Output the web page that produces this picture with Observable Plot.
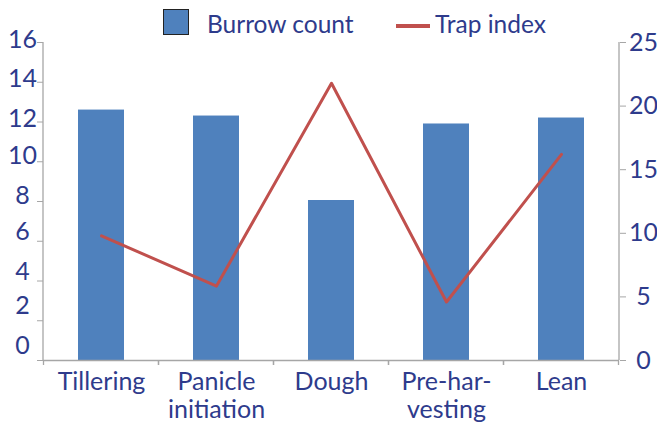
<!DOCTYPE html>
<html>
<head>
<meta charset="utf-8">
<script src="https://cdn.jsdelivr.net/npm/d3@7"></script>
<script src="https://cdn.jsdelivr.net/npm/@observablehq/plot@0.6"></script>
<style>
  html, body { margin: 0; padding: 0; background: white; }
  #wrap { position: relative; width: 657px; height: 425px; font-family: Lato, "Open Sans", sans-serif; }
  #legend { position: absolute; left: 0; top: 0; width: 657px; height: 40px; color: #2e3b8c; font-size: 24.5px; }
  .sw-box { position: absolute; left: 163px; top: 9px; width: 24px; height: 24px; background: #4f81bd; border: 1.5px solid #222; }
  .sw-line { position: absolute; left: 396px; top: 24px; width: 34px; height: 4px; background: #c0504d; }
  .lab { position: absolute; top: 4px; line-height: 40px; white-space: nowrap; }
</style>
</head>
<body>
<div id="wrap">
  <div id="chart"></div>
  <div id="legend">
    <div class="sw-box"></div><div class="lab" style="left:207px">Burrow count</div>
    <div class="sw-line"></div><div class="lab" style="left:435px">Trap index</div>
  </div>
</div>
<script>
const stages = ["Tillering", "Panicle initiation", "Dough", "Pre-harvesting", "Lean"];
const stageLabels = ["Tillering", "Panicle\ninitiation", "Dough", "Pre-har-\nvesting", "Lean"];
const burrowCount = [12.6, 12.3, 8.05, 11.9, 12.2];
const trapIndex = [9.8, 5.85, 21.8, 4.6, 16.2];
const leftTicks = [0, 2, 4, 6, 8, 10, 12, 14, 16];
const rightTicks = [0, 5, 10, 15, 20, 25];
const leftMax = 16, rightMax = 25;

const data = stages.map((s, i) => ({stage: s, burrow: burrowCount[i], trap: trapIndex[i]}));
const toLeft = v => v * leftMax / rightMax;
const textColor = "#2e3b8c";
const axisColor = "#a6a6a6";
const fs = 25;

// left labels drawn in groups (the source's labels drift slightly above their ticks)
const leftLabelGroups = [
  {ticks: leftTicks.filter(v => v >= 12), dy: -3},
  {ticks: leftTicks.filter(v => v >= 8 && v < 12), dy: -6},
  {ticks: leftTicks.filter(v => v >= 4 && v < 8), dy: -9},
  {ticks: leftTicks.filter(v => v < 4), dy: -15}
];

const plot = Plot.plot({
  width: 657,
  height: 425,
  marginLeft: 43,
  marginRight: 38,
  marginTop: 42,
  marginBottom: 65,
  style: {fontFamily: "Lato, 'Open Sans', sans-serif", fontSize: fs + "px", color: textColor, background: "white", overflow: "visible"},
  x: {domain: stages, paddingInner: 0.6, paddingOuter: 0.3, label: null},
  y: {domain: [0, leftMax], label: null},
  marks: [
    Plot.barY(data, {x: "stage", y: "burrow", fill: "#4f81bd"}),
    Plot.line(data, {x: "stage", y: d => toLeft(d.trap), stroke: "#c0504d", strokeWidth: 3}),
    Plot.ruleY([0], {stroke: axisColor, strokeWidth: 1.3}),
    Plot.axisY(leftTicks, {anchor: "left", tickSize: 6, stroke: axisColor, text: null, label: null}),
    ...leftLabelGroups.map(g => Plot.axisY(g.ticks, {anchor: "left", tickSize: 0, tickPadding: 21, textAnchor: "middle", fill: textColor, fontSize: fs, dy: g.dy, label: null})),
    Plot.axisY(rightTicks.map(toLeft), {anchor: "right", tickSize: 6, tickPadding: 18, textAnchor: "middle", stroke: axisColor, fill: textColor, fontSize: fs, tickFormat: v => Math.round(v * rightMax / leftMax), label: null}),
    Plot.axisX({tickSize: 0, tickPadding: 10, fill: textColor, fontSize: fs, lineHeight: 1.12, tickFormat: d => stageLabels[stages.indexOf(d)], label: null})
  ]
});
document.getElementById("chart").appendChild(plot);

// axis lines and category boundary ticks derived from the plot's scales
const xs = plot.scale("x"), ys = plot.scale("y");
const svg = d3.select(plot);
const [x0, x1] = xs.range;
const [yb, yt] = ys.range;
const g = svg.append("g").attr("stroke", axisColor).attr("stroke-width", 1.3);
g.append("line").attr("x1", x0).attr("x2", x0).attr("y1", yt).attr("y2", yb);
g.append("line").attr("x1", x1).attr("x2", x1).attr("y1", yt).attr("y2", yb);
const half = xs.bandwidth / 2;
stages.forEach(s => {
  const c = xs.apply(s) + half;
  [c - xs.step / 2, c + xs.step / 2].forEach(b => {
    g.append("line").attr("x1", b).attr("x2", b).attr("y1", yb).attr("y2", yb + 5);
  });
});
</script>
</body>
</html>
